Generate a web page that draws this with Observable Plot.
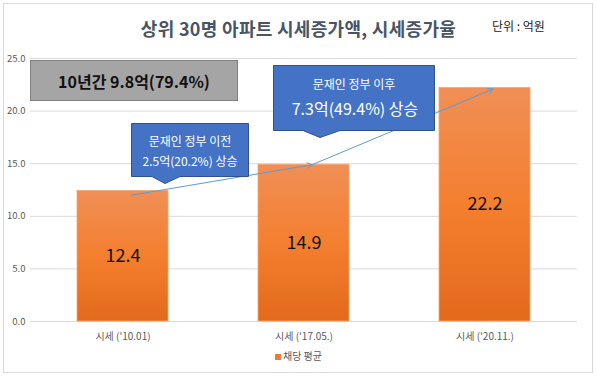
<!DOCTYPE html>
<html><head><meta charset="utf-8">
<script src="https://cdn.jsdelivr.net/npm/d3@7"></script>
<script src="https://cdn.jsdelivr.net/npm/@observablehq/plot@0.6"></script>
<style>
body{margin:0;background:#fff;font-family:"Noto Sans CJK KR","Noto Sans",sans-serif;}
#wrap{position:relative;width:597px;height:380px;overflow:hidden;background:#fff;}
#frame{position:absolute;left:3px;top:3px;width:590px;height:370px;border:1px solid #d9d9d9;box-sizing:border-box;}
#title{position:absolute;left:0;top:16px;width:597px;text-align:center;font-size:18px;line-height:24px;font-weight:700;color:#485566;letter-spacing:0.3px;}
#unit{position:absolute;left:492px;top:17px;font-size:12px;line-height:18px;color:#222;}
#chart{position:absolute;left:0;top:45px;}
#legend{position:absolute;left:0;top:347px;width:597px;text-align:center;font-size:10px;line-height:18px;color:#595959;}
#legend span.sw{display:inline-block;width:6px;height:6px;background:#ed7d31;margin-right:2px;vertical-align:0px;}
#ann{position:absolute;left:0;top:0;}
</style>
</head><body>
<div id="wrap">
  <div id="frame"></div>
  <div id="title">상위 30명 아파트 시세증가액, 시세증가율</div>
  <div id="unit">단위 : 억원</div>
  <div id="chart"></div>
  <div id="legend"><span class="sw"></span>채당 평균</div>
  <svg id="ann" width="597" height="380" xmlns="http://www.w3.org/2000/svg" font-family="Noto Sans CJK KR, Noto Sans, sans-serif">
    <rect x="30.5" y="60.5" width="207" height="40" fill="#a5a5a5" stroke="#7f7f7f" stroke-width="1"/>
    <text x="134" y="81" text-anchor="middle" dominant-baseline="central" font-size="16" font-weight="700" fill="#111">10년간 9.8억(79.4%)</text>
    <path d="M131.5,123.5 H248.5 V176.5 H180 L165,183.5 L152,176.5 H131.5 Z" fill="#4472c4" stroke="#2f528f" stroke-width="1"/>
    <text x="190" y="140" text-anchor="middle" dominant-baseline="central" font-size="12" fill="#fff">문재인 정부 이전</text>
    <text x="190" y="160" text-anchor="middle" dominant-baseline="central" font-size="12" fill="#fff">2.5억(20.2%) 상승</text>
    <path d="M273.5,65.5 H434.5 V130.5 H340 L320,137.5 L303,130.5 H273.5 Z" fill="#4472c4" stroke="#2f528f" stroke-width="1"/>
    <text x="354" y="83" text-anchor="middle" dominant-baseline="central" font-size="12" fill="#fff">문재인 정부 이후</text>
    <text x="355" y="108" text-anchor="middle" dominant-baseline="central" font-size="16" fill="#fff">7.3억(49.4%) 상승</text>
  </svg>
</div>
<script>
const categories = ["시세 ('10.01)", "시세 ('17.05.)", "시세 ('20.11.)"];
const values = [12.4, 14.9, 22.2];
const yTicks = [0, 5, 10, 15, 20, 25];
const arrowFromCat = ["시세 ('10.01)", "시세 ('17.05.)"];
const arrowToCat = ["시세 ('17.05.)", "시세 ('20.11.)"];
const arrowFromVal = [12.0, 14.9];
const arrowToVal = [14.9, 22.1];

const data = categories.map((c, i) => ({cat: c, v: values[i]}));
const arrows = arrowFromCat.map((c, i) => ({x1: c, x2: arrowToCat[i], y1: arrowFromVal[i], y2: arrowToVal[i]}));

const defs = () => {
  const ns = "http://www.w3.org/2000/svg";
  const d = document.createElementNS(ns, "defs");
  const g = document.createElementNS(ns, "linearGradient");
  g.setAttribute("id", "barGrad");
  g.setAttribute("x1", "0"); g.setAttribute("y1", "0");
  g.setAttribute("x2", "0"); g.setAttribute("y2", "1");
  [["0", "#f08f56"], ["0.5", "#f47f2f"], ["1", "#e3691b"]].forEach(([o, c]) => {
    const s = document.createElementNS(ns, "stop");
    s.setAttribute("offset", o); s.setAttribute("stop-color", c);
    g.appendChild(s);
  });
  d.appendChild(g);
  return d;
};

const plot = Plot.plot({
  width: 597,
  height: 300,
  marginLeft: 30,
  marginRight: 20,
  marginTop: 13,
  marginBottom: 24,
  style: {fontFamily: "Noto Sans CJK KR, Noto Sans, sans-serif", background: "transparent", color: "#595959"},
  x: {domain: categories, paddingInner: 0.5, paddingOuter: 0.26, label: null, tickSize: 0, tickPadding: 11, axis: null},
  y: {domain: [0, 25], ticks: yTicks, label: null, axis: null},
  marks: [
    defs,
    Plot.gridY(yTicks, {stroke: "#d9d9d9", strokeOpacity: 1}),
    Plot.axisY(yTicks, {tickSize: 0, tickPadding: 5, tickFormat: d => d.toFixed(1), fontSize: 9.5, fill: "#595959", label: null}),
    Plot.axisX({tickSize: 0, tickPadding: 11, fontSize: 10, fill: "#595959", label: null}),
    Plot.barY(data, {x: "cat", y: "v", fill: "url(#barGrad)", stroke: "#f4a570", strokeWidth: 0.8}),
    Plot.text(data, {x: "cat", y: d => d.v / 2, text: d => d.v.toFixed(1), fontSize: 18, fill: "#111"}),
    Plot.arrow(arrows, {x1: "x1", y1: "y1", x2: "x2", y2: "y2", dx: 8, stroke: "#5b9bd5", strokeWidth: 1, headLength: 8})
  ]
});
document.getElementById("chart").appendChild(plot);
</script>
</body></html>
